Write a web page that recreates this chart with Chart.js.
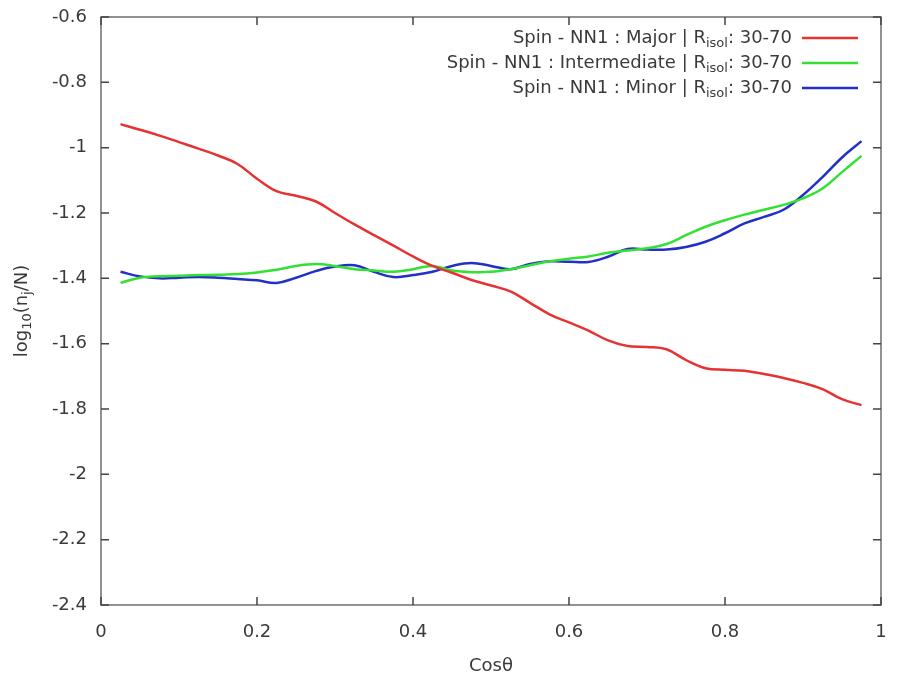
<!DOCTYPE html>
<html>
<head>
<meta charset="utf-8">
<script src="https://cdn.jsdelivr.net/npm/chart.js@4/dist/chart.umd.min.js"></script>
<style>
  html, body { margin: 0; padding: 0; background: #fff; }
  #wrap { width: 904px; height: 678px; }
</style>
</head>
<body>
<div id="wrap"><canvas id="chart1" width="904" height="678"></canvas></div>
<script>
// valeurs
const cosTheta = [0.025, 0.05, 0.075, 0.1, 0.125, 0.15, 0.175, 0.2, 0.225, 0.25,
  0.275, 0.3, 0.325, 0.35, 0.375, 0.4, 0.425, 0.45, 0.475, 0.5,
  0.525, 0.55, 0.575, 0.6, 0.625, 0.65, 0.675, 0.7, 0.725, 0.75,
  0.775, 0.8, 0.825, 0.85, 0.875, 0.9, 0.925, 0.95, 0.975];

const major = [-0.928, -0.945, -0.963, -0.983, -1.003, -1.024, -1.05, -1.095, -1.133, -1.147,
  -1.164, -1.2, -1.235, -1.268, -1.30, -1.333, -1.362, -1.383, -1.405, -1.422,
  -1.44, -1.475, -1.51, -1.535, -1.56, -1.59, -1.607, -1.61, -1.617, -1.65,
  -1.675, -1.68, -1.683, -1.693, -1.705, -1.72, -1.739, -1.77, -1.788];

const intermediate = [-1.414, -1.398, -1.394, -1.392, -1.39, -1.389, -1.387, -1.382, -1.374, -1.362,
  -1.356, -1.362, -1.372, -1.376, -1.38, -1.372, -1.362, -1.376, -1.381, -1.38,
  -1.372, -1.36, -1.348, -1.34, -1.333, -1.322, -1.315, -1.308, -1.295, -1.268,
  -1.242, -1.222, -1.205, -1.19, -1.175, -1.155, -1.125, -1.075, -1.025];

const minor = [-1.38, -1.394, -1.4, -1.398, -1.396, -1.398, -1.402, -1.406, -1.414, -1.398,
  -1.378, -1.364, -1.36, -1.38, -1.396, -1.39, -1.38, -1.362, -1.353, -1.362,
  -1.372, -1.356, -1.348, -1.349, -1.35, -1.334, -1.31, -1.312, -1.312, -1.304,
  -1.288, -1.262, -1.232, -1.212, -1.19, -1.145, -1.09, -1.03, -0.98];

const seriesNames = ["Major", "Intermediate", "Minor"];
const seriesColors = ["#e53232", "#33e033", "#2230c8"];
const xTicks = [0, 0.2, 0.4, 0.6, 0.8, 1];
const yTicks = [-0.6, -0.8, -1, -1.2, -1.4, -1.6, -1.8, -2, -2.2, -2.4];

const FONT = "'DejaVu Sans', sans-serif";
const TXT = "#3a3a3a";
const SIZE = 18;

function pts(ys) {
  return cosTheta.map((x, i) => ({ x: x, y: ys[i] }));
}

const myDatasets = [major, intermediate, minor].map((ys, i) => ({
  label: seriesNames[i],
  data: pts(ys),
  borderColor: seriesColors[i],
  backgroundColor: seriesColors[i],
  borderWidth: 2.5,
  pointRadius: 0,
  tension: 0.4,
  fill: false
}));

// texte avec indice (morceaux: [texte, estIndice])
function drawParts(c, parts, x, y, size) {
  let cx = x;
  parts.forEach(p => {
    if (p[1]) {
      c.font = Math.round(size * 0.72) + "px " + FONT;
      c.fillText(p[0], cx, y + size * 0.3);
    } else {
      c.font = size + "px " + FONT;
      c.fillText(p[0], cx, y);
    }
    cx += c.measureText(p[0]).width;
  });
  return cx - x;
}
function partsWidth(c, parts, size) {
  let w = 0;
  parts.forEach(p => {
    c.font = (p[1] ? Math.round(size * 0.72) : size) + "px " + FONT;
    w += c.measureText(p[0]).width;
  });
  return w;
}

// cadre, graduations intérieures, légende et titre y
const framePlugin = {
  id: "frame",
  beforeDraw(chart) {
    const c = chart.ctx;
    c.save();
    c.fillStyle = "#fff";
    c.fillRect(0, 0, chart.width, chart.height);
    c.restore();
  },
  afterDraw(chart) {
    const c = chart.ctx;
    const a = chart.chartArea;
    const sx = chart.scales.x, sy = chart.scales.y;
    c.save();
    c.strokeStyle = "#6e6e6e";
    c.lineWidth = 1.5;
    c.strokeRect(a.left, a.top, a.right - a.left, a.bottom - a.top);
    c.strokeStyle = "#444";
    c.beginPath();
    xTicks.forEach(v => {
      const px = sx.getPixelForValue(v);
      c.moveTo(px, a.bottom); c.lineTo(px, a.bottom - 8);
      c.moveTo(px, a.top); c.lineTo(px, a.top + 8);
    });
    yTicks.forEach(v => {
      const py = sy.getPixelForValue(v);
      c.moveTo(a.left, py); c.lineTo(a.left + 8, py);
      c.moveTo(a.right, py); c.lineTo(a.right - 8, py);
    });
    c.stroke();

    // légende
    c.fillStyle = TXT;
    c.textBaseline = "middle";
    c.textAlign = "left";
    seriesNames.forEach((n, i) => {
      const y = a.top + 21 + i * 25;
      const parts = [["Spin - NN1 : " + n + " | R", false], ["isol", true], [": 30-70", false]];
      const w = partsWidth(c, parts, SIZE);
      const right = a.right - 89;
      drawParts(c, parts, right - w, y, SIZE);
      c.strokeStyle = seriesColors[i];
      c.lineWidth = 2.5;
      c.beginPath();
      c.moveTo(a.right - 79, y); c.lineTo(a.right - 23, y);
      c.stroke();
    });

    // titre axe y
    c.translate(22, (a.top + a.bottom) / 2);
    c.rotate(-Math.PI / 2);
    const tp = [["log", false], ["10", true], ["(n", false], ["j", true], ["/N)", false]];
    const tw = partsWidth(c, tp, SIZE);
    drawParts(c, tp, -tw / 2, 0, SIZE);
    c.restore();
  }
};

Chart.defaults.color = TXT;
Chart.defaults.font.family = FONT;
Chart.defaults.font.size = SIZE;

const ctx0 = document.getElementById("chart1");
const chart = new Chart(ctx0, {
  type: "line",
  data: { datasets: myDatasets },
  plugins: [framePlugin],
  options: {
    responsive: false,
    animation: false,
    layout: { padding: { left: 0, right: 23, top: 17, bottom: 0 } },
    plugins: {
      legend: { display: false },
      tooltip: { enabled: false }
    },
    scales: {
      x: {
        type: "linear",
        min: 0,
        max: 1,
        afterFit: s => { s.height = 73; s.paddingLeft = 0; s.paddingRight = 0; },
        afterBuildTicks: s => { s.ticks = xTicks.map(v => ({ value: v })); },
        grid: { display: false, drawTicks: false },
        border: { display: false },
        ticks: { padding: 17, callback: v => String(v) },
        title: { display: true, text: "Cosθ", padding: { top: 0, bottom: 1 } }
      },
      y: {
        type: "linear",
        min: -2.4,
        max: -0.6,
        afterFit: s => { s.width = 101; s.paddingTop = 0; s.paddingBottom = 0; },
        afterBuildTicks: s => { s.ticks = yTicks.map(v => ({ value: v })); },
        grid: { display: false, drawTicks: false },
        border: { display: false },
        ticks: { padding: 14, callback: v => String(Math.round(v * 10) / 10) }
      }
    }
  }
});
</script>
</body>
</html>
